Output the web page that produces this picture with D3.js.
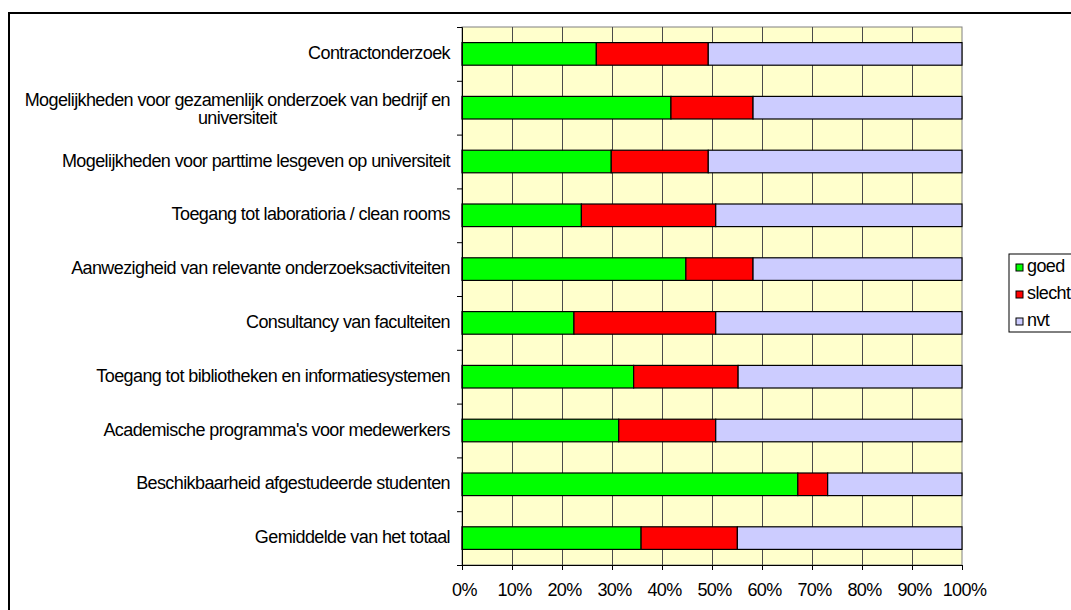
<!DOCTYPE html>
<html>
<head>
<meta charset="utf-8">
<script src="https://cdn.jsdelivr.net/npm/d3@7"></script>
<style>
  body { margin: 0; background: #fff; }
  svg { display: block; }
  text { font-family: "Liberation Sans", Arial, sans-serif; font-size: 18px; letter-spacing: -0.6px; fill: #000; }
</style>
</head>
<body>
<svg id="chart" width="1071" height="610"></svg>
<script>
// Survey answers per item (number of respondents), shown as 100% stacked bars
const categories = [
  "Contractonderzoek",
  "Mogelijkheden voor gezamenlijk onderzoek van bedrijf en universiteit",
  "Mogelijkheden voor parttime lesgeven op universiteit",
  "Toegang tot laboratioria / clean rooms",
  "Aanwezigheid van relevante onderzoeksactiviteiten",
  "Consultancy van faculteiten",
  "Toegang tot bibliotheken en informatiesystemen",
  "Academische programma's voor medewerkers",
  "Beschikbaarheid afgestudeerde studenten",
  "Gemiddelde van het totaal"
];
const goed   = [18, 28, 20, 16, 30, 15, 23, 21, 45, 24];
const slecht = [15, 11, 13, 18,  9, 19, 14, 13,  4, 12.9];
const nvt    = [34, 28, 34, 33, 28, 33, 30, 33, 18, 30.1];
const seriesNames = ["goed", "slecht", "nvt"];
const legendLabels = ["goed", "slecht", "nvt"];
const seriesColors = ["#00FF00", "#FF0000", "#CCCCFF"];
const tickLabels = ["0%", "10%", "20%", "30%", "40%", "50%", "60%", "70%", "80%", "90%", "100%"];

const svg = d3.select("#chart");
const plot = { left: 462, right: 962, top: 27, bottom: 565 };

const rows = categories.map((c, i) => ({ cat: c, goed: goed[i], slecht: slecht[i], nvt: nvt[i] }));
const stacked = d3.stack().keys(seriesNames).offset(d3.stackOffsetExpand)(rows);

const x = d3.scaleLinear().domain([0, 1]).range([plot.left, plot.right]);
const y = d3.scaleBand().domain(categories).range([plot.top, plot.bottom])
  .paddingInner(0.58).paddingOuter(0.29);
const yEdges = d3.scaleLinear().domain([0, categories.length]).range([plot.top, plot.bottom]);
const tickVals = d3.range(tickLabels.length).map(i => i / (tickLabels.length - 1));

// outer chart frame
svg.append("rect")
  .attr("x", 9).attr("y", 13).attr("width", 1100).attr("height", 640)
  .attr("fill", "#fff").attr("stroke", "#000").attr("stroke-width", 2);

// plot area
svg.append("rect")
  .attr("x", plot.left).attr("y", plot.top)
  .attr("width", plot.right - plot.left).attr("height", plot.bottom - plot.top)
  .attr("fill", "#FFFFCC").attr("stroke", "#808080").attr("stroke-width", 1);

// vertical gridlines
svg.append("g").selectAll("line")
  .data(tickVals.slice(1, -1))
  .join("line")
  .attr("x1", d => Math.round(x(d)) + 0.5).attr("x2", d => Math.round(x(d)) + 0.5)
  .attr("y1", plot.top).attr("y2", plot.bottom)
  .attr("stroke", "#4a4a4a").attr("stroke-width", 1);

// stacked bars
svg.append("g").selectAll("g")
  .data(stacked)
  .join("g")
  .attr("fill", (d, i) => seriesColors[i])
  .selectAll("rect")
  .data(d => d)
  .join("rect")
  .attr("x", d => x(d[0]))
  .attr("width", d => x(d[1]) - x(d[0]))
  .attr("y", d => y(d.data.cat))
  .attr("height", y.bandwidth())
  .attr("stroke", "#000").attr("stroke-width", 1.2);

// category axis: ticks on category boundaries
const yAxis = svg.append("g")
  .attr("transform", `translate(${plot.left},0)`)
  .call(d3.axisLeft(yEdges).tickValues(d3.range(categories.length + 1)).tickSize(5).tickFormat(""));
yAxis.select(".domain").attr("stroke", "#000");
yAxis.selectAll(".tick line").attr("stroke", "#000");

// value axis
const xAxis = svg.append("g")
  .attr("transform", `translate(0,${plot.bottom})`)
  .call(d3.axisBottom(x).tickValues(tickVals).tickSize(5).tickPadding(13)
    .tickFormat((d, i) => tickLabels[i]));
xAxis.select(".domain").attr("stroke", "#000");
xAxis.selectAll(".tick line").attr("stroke", "#000");
xAxis.selectAll(".tick text")
  .attr("font-family", null).attr("font-size", null).attr("fill", "#000").attr("dx", 2);

// category labels, wrapped and centred as a block, right-aligned to the axis
const labelRight = 450, maxWidth = 440, lineHeight = 18.5;
const labelG = svg.append("g");
categories.forEach(cat => {
  const words = cat.split(" ");
  const probe = labelG.append("text");
  const lines = [];
  let line = [];
  words.forEach(w => {
    line.push(w);
    probe.text(line.join(" "));
    if (probe.node().getComputedTextLength() > maxWidth && line.length > 1) {
      line.pop();
      lines.push(line.join(" "));
      line = [w];
    }
  });
  lines.push(line.join(" "));
  const widths = lines.map(l => { probe.text(l); return probe.node().getComputedTextLength(); });
  probe.remove();
  const blockW = d3.max(widths);
  const cy = y(cat) + y.bandwidth() / 2;
  const multi = lines.length > 1;
  const t = labelG.append("text")
    .attr("text-anchor", multi ? "middle" : "end")
    .attr("dominant-baseline", "central");
  lines.forEach((l, i) => {
    t.append("tspan")
      .attr("x", multi ? labelRight - blockW / 2 : labelRight)
      .attr("y", cy + (i - (lines.length - 1) / 2) * lineHeight + (multi ? 1.5 : -1))
      .text(l);
  });
});

// legend
const legend = svg.append("g").attr("transform", "translate(1009,254)");
legend.append("rect")
  .attr("width", 120).attr("height", 78)
  .attr("fill", "#fff").attr("stroke", "#000").attr("stroke-width", 1);
const item = legend.selectAll("g.item")
  .data(legendLabels)
  .join("g").attr("class", "item")
  .attr("transform", (d, i) => `translate(7,${13 + i * 27})`);
item.append("rect")
  .attr("x", 0).attr("y", -3).attr("width", 7).attr("height", 7)
  .attr("fill", (d, i) => seriesColors[i]).attr("stroke", "#000").attr("stroke-width", 1);
item.append("text")
  .attr("x", 11).attr("y", -1).attr("dominant-baseline", "central")
  .text(d => d);
</script>
</body>
</html>
